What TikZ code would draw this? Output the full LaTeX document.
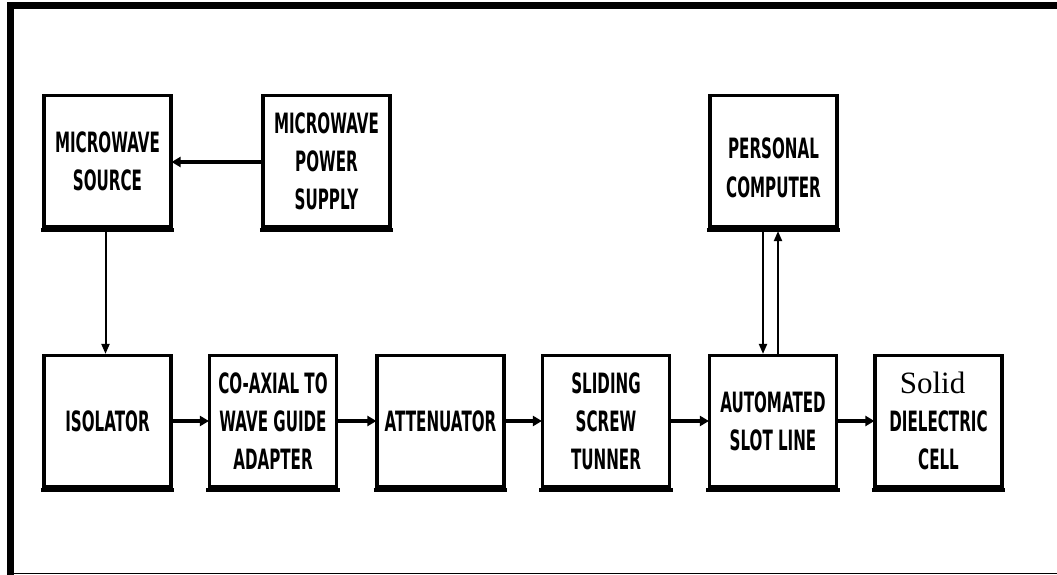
\documentclass[tikz,border=0pt]{standalone}
\usepackage{fontspec}
\usetikzlibrary{arrows.meta}
\newfontfamily\lblfont{DejaVu Sans}[FakeStretch=0.54]
\newfontfamily\solidfont{Liberation Serif}
\tikzset{
  blk/.style={draw, line width=3.2pt, minimum width=127pt, minimum height=131pt,
    align=center, inner sep=0pt, font=\lblfont\bfseries\fontsize{28}{38}\selectfont},
  thickarr/.style={line width=4pt, -{Triangle[length=9pt,width=10pt]}, shorten >=-1pt},
  thinarr/.style={line width=2pt, -{Triangle[length=10pt,width=8pt]}},
  shade/.style={line width=4pt, line cap=butt}
}
\begin{document}
\begin{tikzpicture}[x=1pt,y=-1pt]
\useasboundingbox (0,0) rectangle (1057,575);
% frame
\fill[black] (7,2) rectangle (1057,9);
\fill[black] (7,2) rectangle (14,575);
\fill[black] (7,572.5) rectangle (1057,574);
% top row
\node[blk] (src) at (107.5,161) {MICROWAVE\\SOURCE};
\node[blk] (pwr) at (326.5,161) {MICROWAVE\\POWER\\SUPPLY};
\node[blk] (pc)  at (773.5,161) {\raisebox{-36pt}[0pt][0pt]{\shortstack{PERSONAL\\[14pt]COMPUTER}}};
% bottom row
\node[blk] (iso) at (107.5,421) {ISOLATOR};
\node[blk] (cox) at (273,421) {CO-AXIAL TO\\WAVE GUIDE\\ADAPTER};
\node[blk] (att) at (440.5,421) {ATTENUATOR};
\node[blk] (sld) at (606,421) {SLIDING\\SCREW\\TUNNER};
\node[blk] (asl) at (773,421) {AUTOMATED\\SLOT LINE};
\node[blk] (sdc) at (938.5,421) {\hspace*{-12pt}{\solidfont\mdseries\fontsize{31}{38}\selectfont Solid}\\DIELECTRIC\\CELL};
% heavier bottom edges
\foreach \n in {src,pwr,pc,iso,cox,att,sld,asl,sdc}{
  \draw[shade] ([xshift=-1.6pt,yshift=-2pt]\n.south west) -- ([xshift=1.6pt,yshift=-2pt]\n.south east);
}
% connectors
\draw[thickarr] (pwr.west |- 0,162) -- (src.east |- 0,162);
\draw[thinarr] ([xshift=-2pt,yshift=-3pt]src.south) -- ([xshift=-2pt]iso.north);
\draw[thickarr] (iso) -- (cox);
\draw[thickarr] (cox) -- (att);
\draw[thickarr] (att) -- (sld);
\draw[thickarr] (sld) -- (asl);
\draw[thickarr] (asl) -- (sdc);
\draw[thinarr] ([xshift=-10.5pt,yshift=-3pt]pc.south) -- ([xshift=-10pt]asl.north);
\draw[thinarr] ([xshift=5pt]asl.north) -- ([xshift=4.5pt,yshift=-3pt]pc.south);
\end{tikzpicture}
\end{document}
